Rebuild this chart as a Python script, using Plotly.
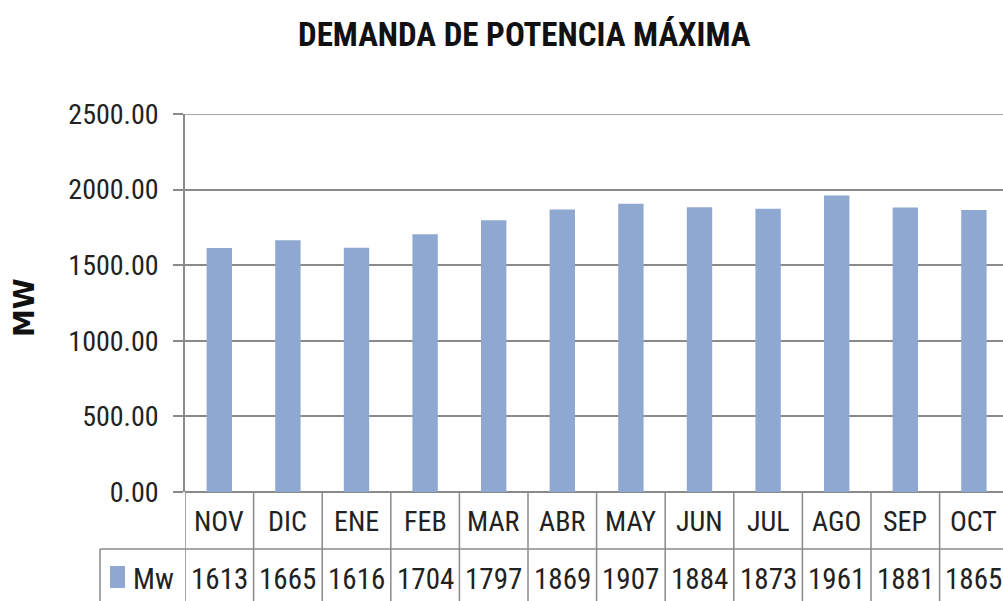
import plotly.graph_objects as go

months = ["NOV", "DIC", "ENE", "FEB", "MAR", "ABR", "MAY", "JUN", "JUL", "AGO", "SEP", "OCT"]
mw_values = [1613, 1665, 1616, 1704, 1797, 1869, 1907, 1884, 1873, 1961, 1881, 1865]
y_ticks = [0, 500, 1000, 1500, 2000, 2500]
series_name = "Mw"
title_text = "DEMANDA DE POTENCIA MÁXIMA"
y_title = "MW"

FONT = "Liberation Sans Narrow, Roboto Condensed, Liberation Sans, Arial"
BAR = "#8FA8D1"
GRID = "#8a8a8a"

W, H = 1003, 601
L, R, T, B = 185, 0, 114, 109
pw, ph = W - L - R, H - T - B

def px_x(p):  # pixel -> paper x
    return (p - L) / pw

def px_y(p):  # pixel -> paper y
    return (H - B - p) / ph

fig = go.Figure()
fig.add_trace(go.Bar(x=list(range(len(months))), y=mw_values, name=series_name,
                     marker=dict(color=BAR, line=dict(width=0)), width=0.37))

shapes = []
row1_bottom = px_y(549)
table_bottom = px_y(612)
# top gridline at the axis maximum
shapes.append(dict(type="line", xref="paper", yref="y", x0=0, x1=1, y0=max(y_ticks), y1=max(y_ticks),
                   line=dict(color=GRID, width=1.5), layer="below"))
for i in range(len(months) + 1):
    shapes.append(dict(type="line", xref="x", yref="paper", x0=i - 0.5, x1=i - 0.5,
                       y0=0, y1=table_bottom, line=dict(color=GRID, width=1.5)))
shapes.append(dict(type="line", xref="paper", yref="paper", x0=px_x(100), x1=1.0,
                   y0=row1_bottom, y1=row1_bottom, line=dict(color=GRID, width=1.5)))
shapes.append(dict(type="line", xref="paper", yref="paper", x0=px_x(100), x1=px_x(100),
                   y0=row1_bottom, y1=table_bottom, line=dict(color=GRID, width=1.5)))
shapes.append(dict(type="rect", xref="paper", yref="paper", x0=px_x(110), x1=px_x(125),
                   y0=px_y(566), y1=px_y(588), fillcolor=BAR, line=dict(width=0)))

annotations = []
for i, (m, v) in enumerate(zip(months, mw_values)):
    annotations.append(dict(x=i, y=px_y(521), xref="x", yref="paper", text=m, showarrow=False,
                            font=dict(family=FONT, size=28, color="#222"), xanchor="center", yanchor="middle"))
    annotations.append(dict(x=i, y=px_y(579), xref="x", yref="paper", text=str(v), showarrow=False,
                            font=dict(family=FONT, size=29, color="#222"), xanchor="center", yanchor="middle"))
annotations.append(dict(x=px_x(153), y=px_y(579), xref="paper", yref="paper", text=series_name,
                        showarrow=False, font=dict(family=FONT, size=29, color="#222"),
                        xanchor="center", yanchor="middle"))
annotations.append(dict(x=px_x(24), y=px_y(308), xref="paper", yref="paper", text="<b>" + y_title + "</b>",
                        showarrow=False, textangle=-90,
                        font=dict(family="DejaVu Sans, Liberation Sans", size=28, color="#111"),
                        xanchor="center", yanchor="middle"))
annotations.append(dict(x=px_x(524), y=px_y(35), xref="paper", yref="paper", text="<b>" + title_text + "</b>",
                        showarrow=False, font=dict(family=FONT, size=33, color="#111"),
                        xanchor="center", yanchor="middle"))

fig.update_layout(
    width=W, height=H,
    margin=dict(l=L, r=R, t=T, b=B, pad=0),
    paper_bgcolor="white", plot_bgcolor="white",
    showlegend=False,
    shapes=shapes, annotations=annotations,
    xaxis=dict(range=[-0.5, -0.5 + pw / 68.6], showticklabels=False, showgrid=False,
               zeroline=False, showline=False, ticks=""),
    yaxis=dict(range=[0, 2500], tickvals=y_ticks, ticktext=[f"{v:.2f}" for v in y_ticks],
               showgrid=True, gridcolor=GRID, gridwidth=1.5, zeroline=True, zerolinecolor=GRID,
               zerolinewidth=1.5, showline=True, linecolor=GRID, linewidth=1.5,
               ticks="outside", ticklen=10, tickcolor=GRID, tickwidth=1.5, ticklabelstandoff=9,
               tickfont=dict(family=FONT, size=28, color="#222")),
)

fig.write_html("out.html", config={"displayModeBar": False},
               post_script="document.body.style.margin='0';document.body.style.overflow='hidden';")
